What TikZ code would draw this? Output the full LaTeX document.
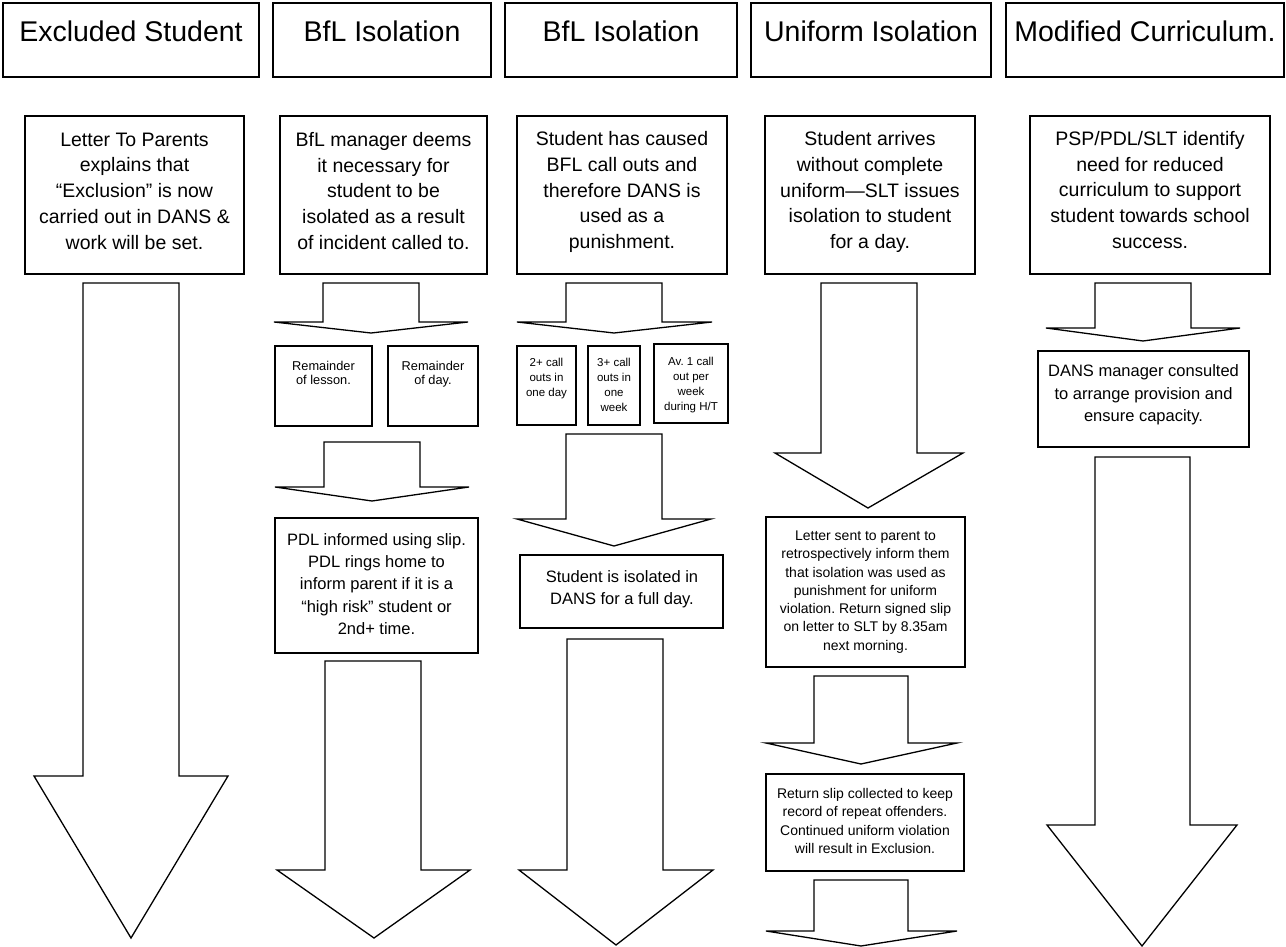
\documentclass[tikz,border=0pt]{standalone}
\usepackage{fontspec}
\setmainfont{Liberation Sans}
\usetikzlibrary{fit}
\frenchspacing
\tikzset{
  hbox/.style={draw, line width=2.4pt, inner sep=0pt},
  cbox/.style={draw, line width=2.8pt, inner sep=0pt},
  blockarrow/.style={draw, line width=1.3pt, line join=miter, fill=white},
  htxt/.style={inner sep=0pt, anchor=base, font=\fontsize{28.5}{34}\selectfont},
  bigtxt/.style={inner sep=0pt, align=center, font=\fontsize{19.5}{25.8}\selectfont},
  midtxt/.style={inner sep=0pt, align=center, font=\fontsize{16.5}{22.3}\selectfont},
  smltxt/.style={inner sep=0pt, align=center, font=\fontsize{14}{18.3}\selectfont},
  remtxt/.style={inner sep=0pt, align=center, font=\fontsize{12.8}{14.5}\selectfont},
  tinytxt/.style={inner sep=0pt, align=center, font=\fontsize{11.5}{15}\selectfont},
}
% xl xr yt yw wl wr tx ty
\newcommand\blockarr[8]{\draw[blockarrow] (#1,#3) -- (#2,#3) -- (#2,#4) -- (#6,#4) -- (#7,#8) -- (#5,#4) -- (#1,#4) -- cycle;}
\begin{document}
\begin{tikzpicture}[x=1pt,y=-1pt]
\useasboundingbox (0,0) rectangle (1286,947);
\fill[white] (0,0) rectangle (1286,947);

% header boxes
\node[hbox, fit={(3,3) (259,77)}] (h1) {};
\node[hbox, fit={(273,3) (491,77)}] (h2) {};
\node[hbox, fit={(505,3) (737,77)}] (h3) {};
\node[hbox, fit={(751,3) (991,77)}] (h4) {};
\node[hbox, fit={(1006,3) (1284,77)}] (h5) {};
\node[htxt] (h1t) at (131,42) {Excluded Student};
\node[htxt] (h2t) at (382,42) {BfL Isolation};
\node[htxt] (h3t) at (621,42) {BfL Isolation};
\node[htxt] (h4t) at (871,42) {Uniform Isolation};
\node[htxt] (h5t) at (1145,42) {Modified Curriculum.};

% first-row content boxes
\node[cbox, fit={(25,116) (244,274)}] (c1) {};
\node[cbox, fit={(280,116) (487,274)}] (c2) {};
\node[cbox, fit={(517,116) (727,274)}] (c3) {};
\node[cbox, fit={(765,116) (975,274)}] (c4) {};
\node[cbox, fit={(1030,116) (1270,274)}] (c5) {};
\node[bigtxt] (c1t) at (134.5,191) {Letter To Parents\\explains that\\“Exclusion” is now\\carried out in DANS \&\\work will be set.};
\node[bigtxt] (c2t) at (383.5,191) {BfL manager deems\\it necessary for\\student to be\\isolated as a result\\of incident called to.};
\node[bigtxt] (c3t) at (622,192) {Student has caused\\BFL call outs and\\therefore DANS is\\used as a\\punishment.};
\node[bigtxt] (c4t) at (870,192) {Student arrives\\without complete\\uniform—SLT issues\\isolation to student\\for a day.};
\node[bigtxt] (c5t) at (1150,190) {PSP/PDL/SLT identify\\need for reduced\\curriculum to support\\student towards school\\success.};

% column 1
\blockarr{83}{179}{283}{776}{34}{228}{131}{938}

% column 2
\blockarr{323}{419}{283}{322}{274}{468}{371}{333}
\node[cbox, fit={(275,346) (372,426)}] (r1) {};
\node[cbox, fit={(388,346) (478,426)}] (r2) {};
\node[remtxt] (r1t) at (323.5,373) {Remainder\\of lesson.};
\node[remtxt] (r2t) at (433,374) {Remainder\\of day.};
\blockarr{324}{420}{442}{487}{275}{469}{372}{501}
\node[cbox, fit={(275,518) (478,653)}] (p2) {};
\node[midtxt] (p2t) at (376.5,584) {PDL informed using slip.\\PDL rings home to\\inform parent if it is a\\“high risk” student or\\2nd+ time.};
\blockarr{325}{421}{661}{870}{277}{470}{374}{938}

% column 3
\blockarr{566}{662}{283}{322}{517}{712}{614}{333}
\node[cbox, fit={(517,346) (576,425)}] (s1) {};
\node[cbox, fit={(588,346) (640,425)}] (s2) {};
\node[cbox, fit={(654,344) (728,423)}] (s3) {};
\node[tinytxt] (s1t) at (546.5,379) {2+ call\\outs in\\one day};
\node[tinytxt] (s2t) at (614,385) {3+ call\\outs in\\one\\week};
\node[tinytxt] (s3t) at (691,385.5) {Av. 1 call\\out per\\week\\during H/T};
\blockarr{566}{662}{434}{519}{517}{711}{614}{546}
\node[cbox, fit={(520,555) (723,628)}] (i3) {};
\node[midtxt] (i3t) at (622,589) {Student is isolated in\\DANS for a full day.};
\blockarr{567}{663}{639}{870}{519}{713}{616}{945}

% column 4
\blockarr{821}{917}{283}{453}{775}{963}{868}{508}
\node[cbox, fit={(766,517) (965,667)}] (l4) {};
\node[smltxt] (l4t) at (865.5,592) {Letter sent to parent to\\retrospectively inform them\\that isolation was used as\\punishment for uniform\\violation. Return signed slip\\on letter to SLT by 8.35am\\next morning.};
\blockarr{814}{908}{676}{743}{766}{957}{861}{764}
\node[cbox, fit={(766,774) (964,871)}] (t4) {};
\node[smltxt] (t4t) at (865,821) {Return slip collected to keep\\record of repeat offenders.\\Continued uniform violation\\will result in Exclusion.};
\blockarr{814}{908}{880}{931}{766}{957}{861}{946}

% column 5
\blockarr{1095}{1191}{283}{328}{1046}{1240}{1143}{341}
\node[cbox, fit={(1038,351) (1249,447)}] (d5) {};
\node[midtxt] (d5t) at (1143.5,395) {DANS manager consulted\\to arrange provision and\\ensure capacity.};
\blockarr{1095}{1190}{457}{825}{1047}{1237}{1142}{946}
\end{tikzpicture}
\end{document}
